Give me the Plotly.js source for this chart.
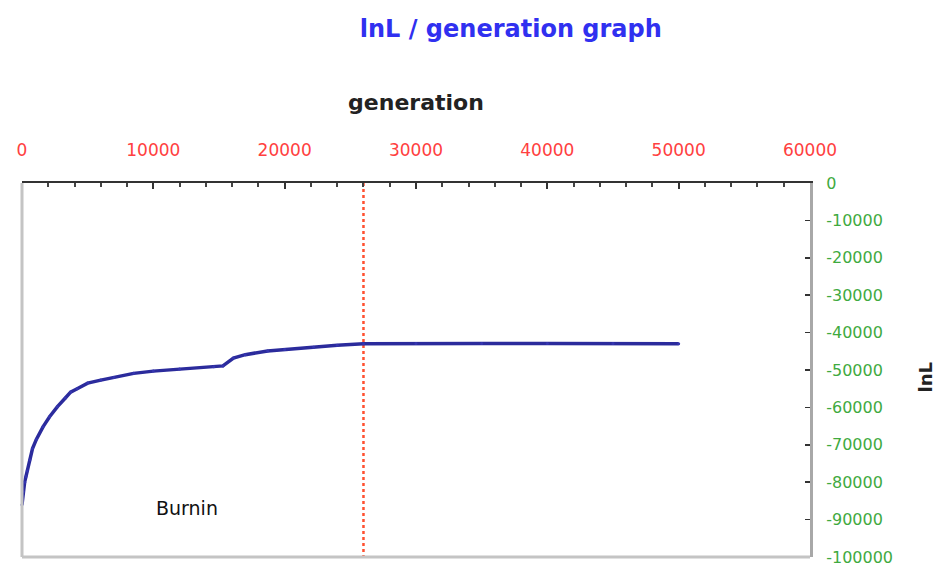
<!DOCTYPE html>
<html>
<head>
<meta charset="utf-8">
<script src="https://cdn.plot.ly/plotly-3.0.1.min.js"></script>
<style>html,body{margin:0;padding:0;background:#fff;}#chart{width:939px;height:566px;}</style>
</head>
<body>
<div id="chart"></div>
<script>
const generations = [0, 100, 200, 300, 400, 600, 800, 1100, 1600, 2100, 2700, 3300, 3700, 4200, 5000, 6000, 7000, 8500, 10000, 12000, 14600, 15300, 16100, 17000, 18700, 20000, 22200, 24000, 26000, 30000, 35000, 40000, 45000, 50000];
const lnL = [-86000, -82500, -80000, -78500, -77000, -74000, -71000, -68500, -65200, -62500, -59800, -57500, -55900, -55000, -53500, -52700, -52000, -50900, -50300, -49700, -49100, -48900, -46800, -45900, -44900, -44500, -43900, -43400, -43000, -42900, -42900, -42900, -42900, -43000];
const burninGen = 26000;
const burninLabelPos = [12600, -87000];
const xTickVals = [0, 10000, 20000, 30000, 40000, 50000, 60000];
const xTickText = ["0", "10000", "20000", "30000", "40000", "50000", "60000"];
const yTickVals = [0, -10000, -20000, -30000, -40000, -50000, -60000, -70000, -80000, -90000, -100000];
const yTickText = ["0", "-10000", "-20000", "-30000", "-40000", "-50000", "-60000", "-70000", "-80000", "-90000", "-100000"];

const trace = {
  x: generations, y: lnL, type: 'scatter', mode: 'lines+markers',
  line: {color: '#2b2b9c', width: 3.5},
  marker: {color: '#3535b0', size: 3},
  hoverinfo: 'skip', cliponaxis: false
};

const layout = {
  width: 939, height: 566,
  margin: {l: 22, r: 129, t: 183, b: 9},
  paper_bgcolor: '#ffffff', plot_bgcolor: '#ffffff',
  showlegend: false,
  font: {family: 'DejaVu Sans, sans-serif'},
  title: {text: '<b>lnL / generation graph</b>', x: 0.544, xanchor: 'center', y: 0.95, yanchor: 'middle',
          font: {family: 'DejaVu Sans, sans-serif', size: 24, color: '#3030f0'}},
  xaxis: {
    side: 'top', range: [0, 60000], tickvals: xTickVals, ticktext: xTickText,
    showgrid: false, zeroline: false, showline: true, linecolor: '#333333', linewidth: 2,
    ticks: 'inside', ticklen: 6, tickwidth: 2, tickcolor: '#333333',
    minor: {dtick: 2000, ticks: 'inside', ticklen: 4, tickwidth: 2, tickcolor: '#444444'},
    tickfont: {family: 'DejaVu Sans, sans-serif', size: 17, color: '#ff4040'},
    ticklabelstandoff: 18, ticklabeloverflow: 'allow',
    title: {text: '<b>generation</b>', standoff: 24, font: {family: 'DejaVu Sans, sans-serif', size: 22, color: '#222222'}}
  },
  yaxis: {
    side: 'right', range: [-100000, 0], tickvals: yTickVals, ticktext: yTickText,
    showgrid: false, zeroline: false, showline: true, linecolor: '#a8a8a8', linewidth: 3,
    ticks: 'inside', ticklen: 5, tickwidth: 1.5, tickcolor: '#333333',
    tickfont: {family: 'DejaVu Sans, sans-serif', size: 16, color: '#3faa3f'},
    ticklabelstandoff: 10, ticklabeloverflow: 'allow'
  },
  shapes: [
    {type: 'line', xref: 'x', yref: 'y', x0: burninGen, x1: burninGen, y0: 0, y1: -100000,
     line: {color: '#ff5030', width: 2.5, dash: 'dot'}, layer: 'below'},
    {type: 'line', xref: 'paper', yref: 'paper', x0: 0, x1: 0, y0: 0, y1: 1,
     line: {color: '#c4c4c4', width: 3}},
    {type: 'line', xref: 'paper', yref: 'paper', x0: 0, x1: 1, y0: 0, y1: 0,
     line: {color: '#c4c4c4', width: 3}}
  ],
  annotations: [
    {x: burninLabelPos[0], y: burninLabelPos[1], xref: 'x', yref: 'y', text: 'Burnin', showarrow: false,
     font: {family: 'DejaVu Sans, sans-serif', size: 19, color: '#111111'}},
    {x: 1.146, y: 0.48, xref: 'paper', yref: 'paper', text: '<b>lnL</b>', textangle: -90, showarrow: false,
     xanchor: 'center', yanchor: 'middle',
     font: {family: 'DejaVu Sans, sans-serif', size: 18, color: '#222222'}}
  ]
};

Plotly.newPlot('chart', [trace], layout, {displayModeBar: false, staticPlot: true});
</script>
</body>
</html>
